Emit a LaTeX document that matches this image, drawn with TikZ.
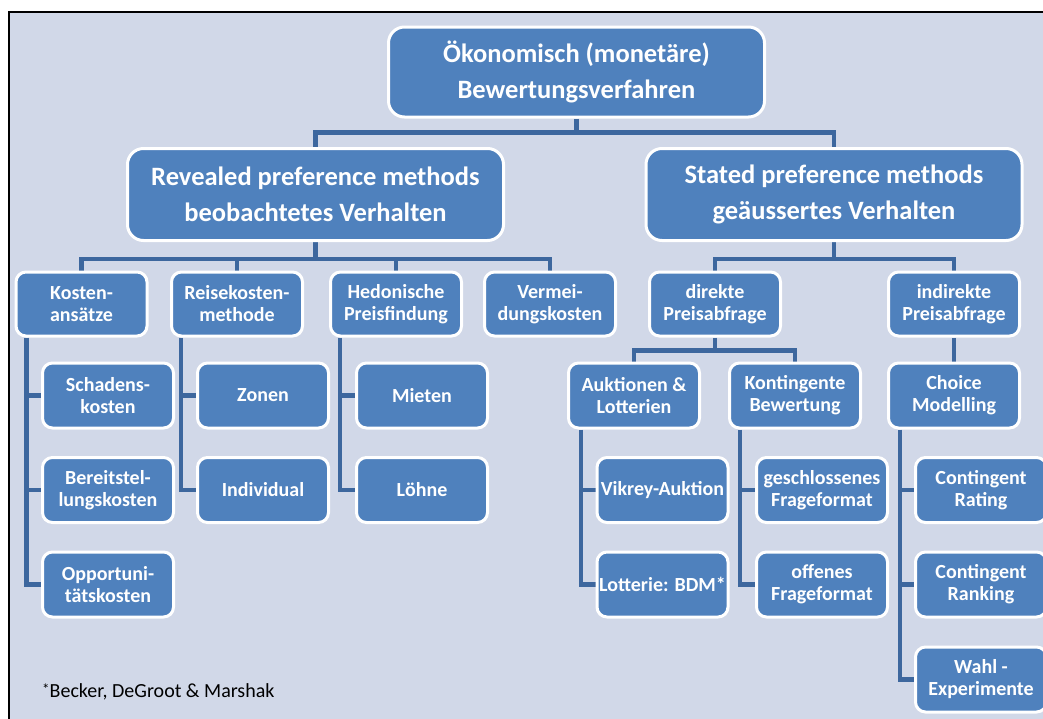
\documentclass[tikz,border=0pt]{standalone}
\usepackage{fontspec}
\setmainfont{Carlito}
\definecolor{boxblue}{HTML}{4F81BD}
\definecolor{linkblue}{HTML}{3D679E}
\definecolor{panel}{HTML}{D1D8E8}
\pgfdeclarelayer{panel}
\pgfdeclarelayer{links}
\pgfsetlayers{panel,links,main}
\tikzset{
  box/.style={draw=white, line width=3pt, fill=boxblue, rounded corners=10pt,
    text=white, align=center, font=\bfseries\fontsize{20}{22}\selectfont,
    minimum width=131pt, minimum height=65pt, inner sep=0pt},
  bigbox/.style={box, rounded corners=16pt, font=\bfseries\fontsize{26.5}{35.5}\selectfont,
    minimum width=376pt, minimum height=92pt},
  conn/.style={draw=linkblue, line width=4.5pt},
}
\begin{document}
\begin{tikzpicture}[x=1pt,y=-1pt]
\useasboundingbox (0,0) rectangle (1043,718);
\clip (0,0) rectangle (1043,718);

% top levels
\node[bigbox, minimum height=90pt] (root) at (576.5,72) {Ökonomisch (monetäre)\\Bewertungsverfahren};
\node[bigbox] (rev) at (315.5,194.5) {Revealed preference methods\\beobachtetes Verhalten};
\node[bigbox] (sta) at (834,194.5) {Stated preference methods\\geäussertes Verhalten};

% method groups
\node[box, minimum height=64pt] (kos) at (81.5,304) {Kosten-\\ansätze};
\node[box, minimum height=64pt] (rei) at (237,304) {Reisekosten-\\methode};
\node[box, minimum height=64pt] (hed) at (396,304) {Hedonische\\Preisfindung};
\node[box, minimum height=64pt] (ver) at (550,304) {Vermei-\\dungskosten};
\node[box, minimum height=64pt] (dir) at (715,304) {direkte\\Preisabfrage};
\node[box, minimum height=64pt] (ind) at (954,304) {indirekte\\Preisabfrage};

% leaves and sub-groups
\node[box] (sch) at (108,395.5) {Schadens-\\kosten};
\node[box] (ber) at (108,490) {Bereitstel-\\lungskosten};
\node[box] (opp) at (108,584.5) {Opportuni-\\tätskosten};
\node[box] (zon) at (263,395.5) {Zonen};
\node[box] (idv) at (263,490) {Individual};
\node[box] (mie) at (422,395.5) {Mieten};
\node[box] (loe) at (422,490) {Löhne};
\node[box] (auk) at (634,395.5) {Auktionen \&\\Lotterien};
\node[box] (kon) at (795,395.5) {Kontingente\\Bewertung};
\node[box] (cho) at (954,395.5) {Choice\\Modelling};
\node[box] (vik) at (662.5,490) {Vikrey-Auktion};
\node[box] (lot) at (662.5,584.5) {Lotterie: BDM*};
\node[box] (ges) at (822,490) {geschlossenes\\Frageformat};
\node[box] (off) at (822,584.5) {offenes\\Frageformat};
\node[box] (cra) at (981,490) {Contingent\\Rating};
\node[box] (crk) at (981,584.5) {Contingent\\Ranking};
\node[box] (wah) at (981,679.5) {Wahl -\\Experimente};

% footnote
\node[anchor=base west, inner sep=0pt, font=\fontsize{20}{22}\selectfont] (fn) at (42,697)
  {\raisebox{3pt}{\fontsize{15}{15}\selectfont*}Becker, DeGroot \& Marshak};

% tree connectors, behind the boxes
\begin{pgfonlayer}{links}
\foreach \c in {rev,sta} \draw[conn] (root.south) -- ++(0,14) -| (\c.north);
\foreach \c in {kos,rei,hed,ver} \draw[conn] (rev.south) -- ++(0,17) -| (\c.north);
\foreach \c in {dir,ind} \draw[conn] (sta.south) -- ++(0,17) -| (\c.north);
\foreach \c in {auk,kon} \draw[conn] (dir.south) -- ++(0,13) -| (\c.north);
\draw[conn] (ind.south) -- (cho.north);
\foreach \c in {sch,ber,opp} \draw[conn] ([xshift=12pt]kos.south west) |- (\c.west);
\foreach \c in {zon,idv} \draw[conn] ([xshift=11pt]rei.south west) |- (\c.west);
\foreach \c in {mie,loe} \draw[conn] ([xshift=11pt]hed.south west) |- (\c.west);
\foreach \c in {vik,lot} \draw[conn] ([xshift=14pt]auk.south west) |- (\c.west);
\foreach \c in {ges,off} \draw[conn] ([xshift=12pt]kon.south west) |- (\c.west);
\foreach \c in {cra,crk,wah} \draw[conn] ([xshift=13pt]cho.south west) |- (\c.west);
\end{pgfonlayer}

% framed panel
\begin{pgfonlayer}{panel}
\fill[panel] (9,12) rectangle (1060,730);
\draw[black, line width=2pt] (1060,12) -- (9,12) -- (9,730);
\end{pgfonlayer}
\end{tikzpicture}
\end{document}
